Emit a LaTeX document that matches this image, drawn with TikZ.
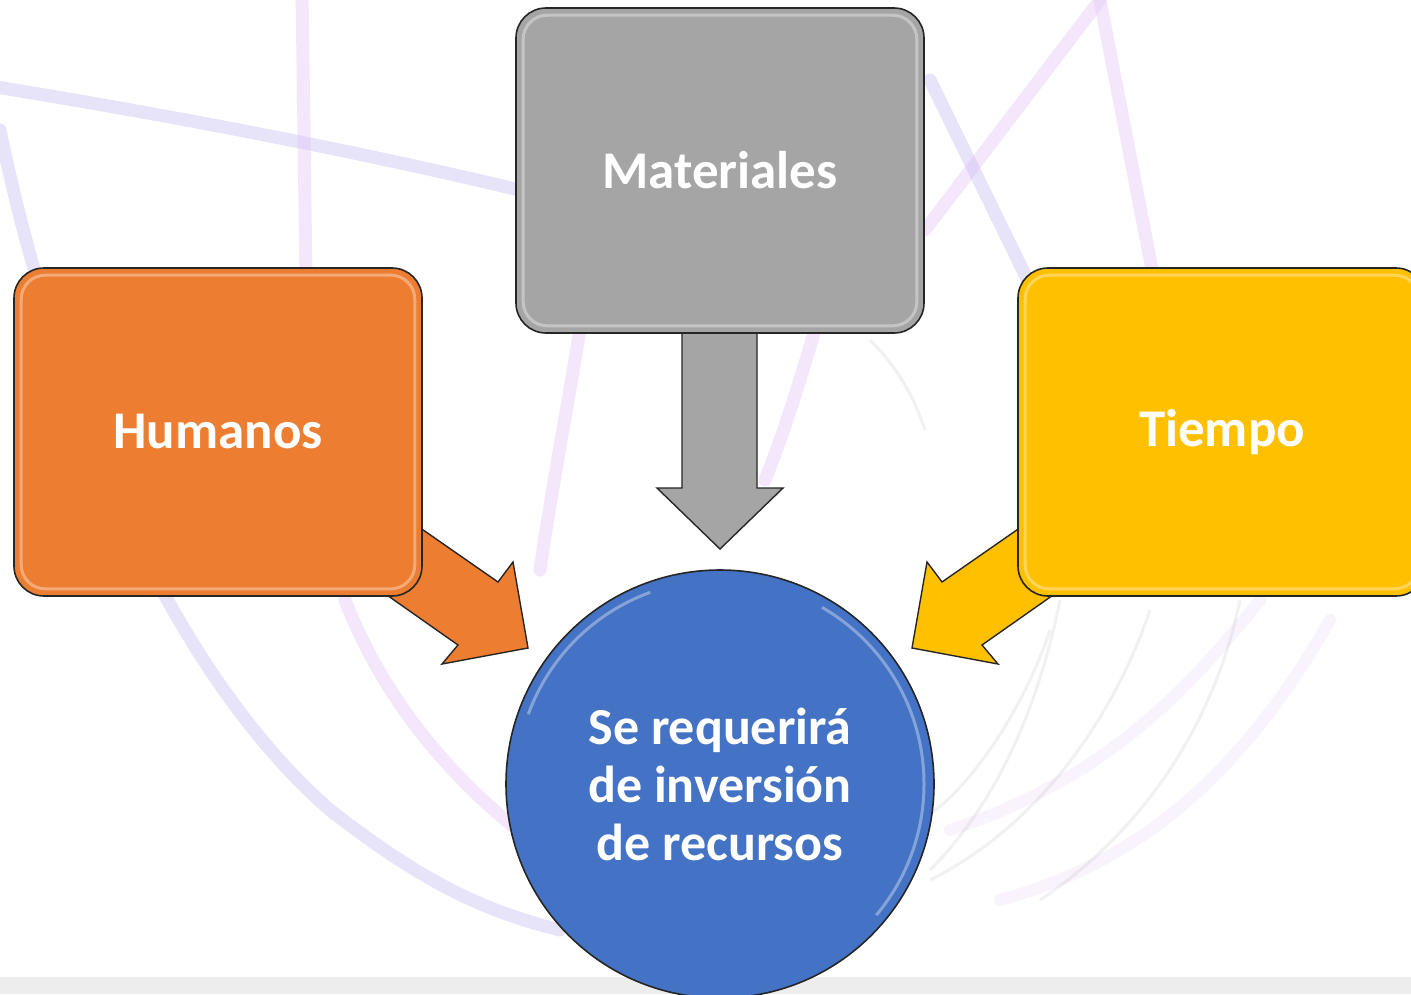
\documentclass[tikz,border=0pt]{standalone}
\usepackage{fontspec}
\setmainfont{Carlito}
\definecolor{orng}{HTML}{ED7D31}
\definecolor{gry}{HTML}{A5A5A5}
\definecolor{gld}{HTML}{FFC000}
\definecolor{blu}{HTML}{4472C4}
\definecolor{lav}{RGB}{196,186,242}
\definecolor{pinkl}{RGB}{228,196,248}
\tikzset{
  bgline/.style={draw=lav, line width=13pt, opacity=0.4, line cap=round},
  bgpink/.style={draw=pinkl, line width=13pt, opacity=0.4, line cap=round},
  bgfaint/.style={draw=pinkl, line width=12pt, opacity=0.2, line cap=round},
  bggray/.style={draw=black!30, line width=3pt, opacity=0.18},
  box/.style={draw=black!85, line width=1.6pt, rounded corners=30pt, text=white,
    font=\fontsize{53}{62}\selectfont\bfseries, minimum width=408pt, align=center},
  blockarrow/.style={draw=black!85, line width=1.4pt, line join=miter},
  gloss/.style={draw=white, opacity=0.35, line width=3pt}
}
\begin{document}
\begin{tikzpicture}[x=1pt,y=-1pt]
\useasboundingbox (0,0) rectangle (1411,994);
\clip (0,0) rectangle (1411,994);
\fill[white] (0,0) rectangle (1411,994);
% background decoration
\draw[bgline] (-10,86) .. controls (200,120) and (400,160) .. (560,200);
\draw[bgpink] (302,-10) -- (306,280);
\draw[bgline] (0,130) .. controls (60,420) and (180,680) .. (330,810) .. controls (420,880) and (480,910) .. (560,930);
\draw[bgpink] (345,600) .. controls (380,690) and (440,770) .. (530,840);
\draw[bgpink] (925,230) -- (1100,0);
\draw[bgpink] (1100,0) -- (1155,285);
\draw[bgline] (930,80) -- (1030,285);
\draw[bgpink] (580,330) .. controls (565,420) and (550,500) .. (540,570);
\draw[bgpink] (815,330) .. controls (800,380) and (785,430) .. (765,480);
\draw[bgfaint] (1330,620) .. controls (1250,760) and (1150,860) .. (1000,900);
\draw[bgfaint] (1260,600) .. controls (1180,700) and (1100,780) .. (950,830);
\draw[bggray] (870,340) .. controls (900,370) and (915,400) .. (925,430);
\draw[bggray] (1060,600) .. controls (1040,700) and (1000,800) .. (930,870);
\draw[bggray] (1240,600) .. controls (1220,700) and (1160,820) .. (1040,900);
\draw[bggray] (1050,630) .. controls (1020,720) and (960,800) .. (920,820);
\draw[bggray] (1150,610) .. controls (1120,700) and (1050,820) .. (930,880);
% bottom strip
\fill[black!7] (0,977) rectangle (1411,994);
% arrows (behind boxes)
\filldraw[blockarrow, fill=orng] (360,486) -- (498,582) -- (513,562) -- (528,648) -- (442,664) -- (458,645) -- (320,548) -- cycle;
\filldraw[blockarrow, fill=gld] (1080,486) -- (942,582) -- (927,562) -- (912,648) -- (998,664) -- (982,645) -- (1120,548) -- cycle;
\filldraw[blockarrow, fill=gry] (682,320) -- (682,488) -- (657,488) -- (720,549) -- (783,488) -- (757,488) -- (757,320) -- cycle;
% boxes
\node[box, fill=gry, minimum height=325pt] (mat) at (720,170.5) {Materiales};
\node[box, fill=orng, minimum height=328pt] (hum) at (218,432) {Humanos};
\node[box, fill=gld, minimum height=328pt] (tie) at (1222,432) {Tiempo};
\draw[gloss, rounded corners=24pt] ([shift={(8pt,-8pt)}]mat.north west) rectangle ([shift={(-8pt,8pt)}]mat.south east);
\draw[gloss, rounded corners=24pt] ([shift={(8pt,-8pt)}]hum.north west) rectangle ([shift={(-8pt,8pt)}]hum.south east);
\draw[gloss, rounded corners=24pt] ([shift={(8pt,-8pt)}]tie.north west) rectangle ([shift={(-8pt,8pt)}]tie.south east);
% centre circle
\node[circle, fill=blu, draw=black!85, line width=1.6pt, minimum size=428pt, inner sep=0pt,
  text=white, align=center, font=\fontsize{52}{58}\selectfont\bfseries] (cen) at (720,784)
  {Se requerirá\\de inversión\\de recursos};
\draw[gloss] (cen.center) ++(60:204pt) arc[start angle=60, end angle=-40, radius=204pt];
\draw[gloss] (cen.center) ++(110:204pt) arc[start angle=110, end angle=160, radius=204pt];
\end{tikzpicture}
\end{document}
